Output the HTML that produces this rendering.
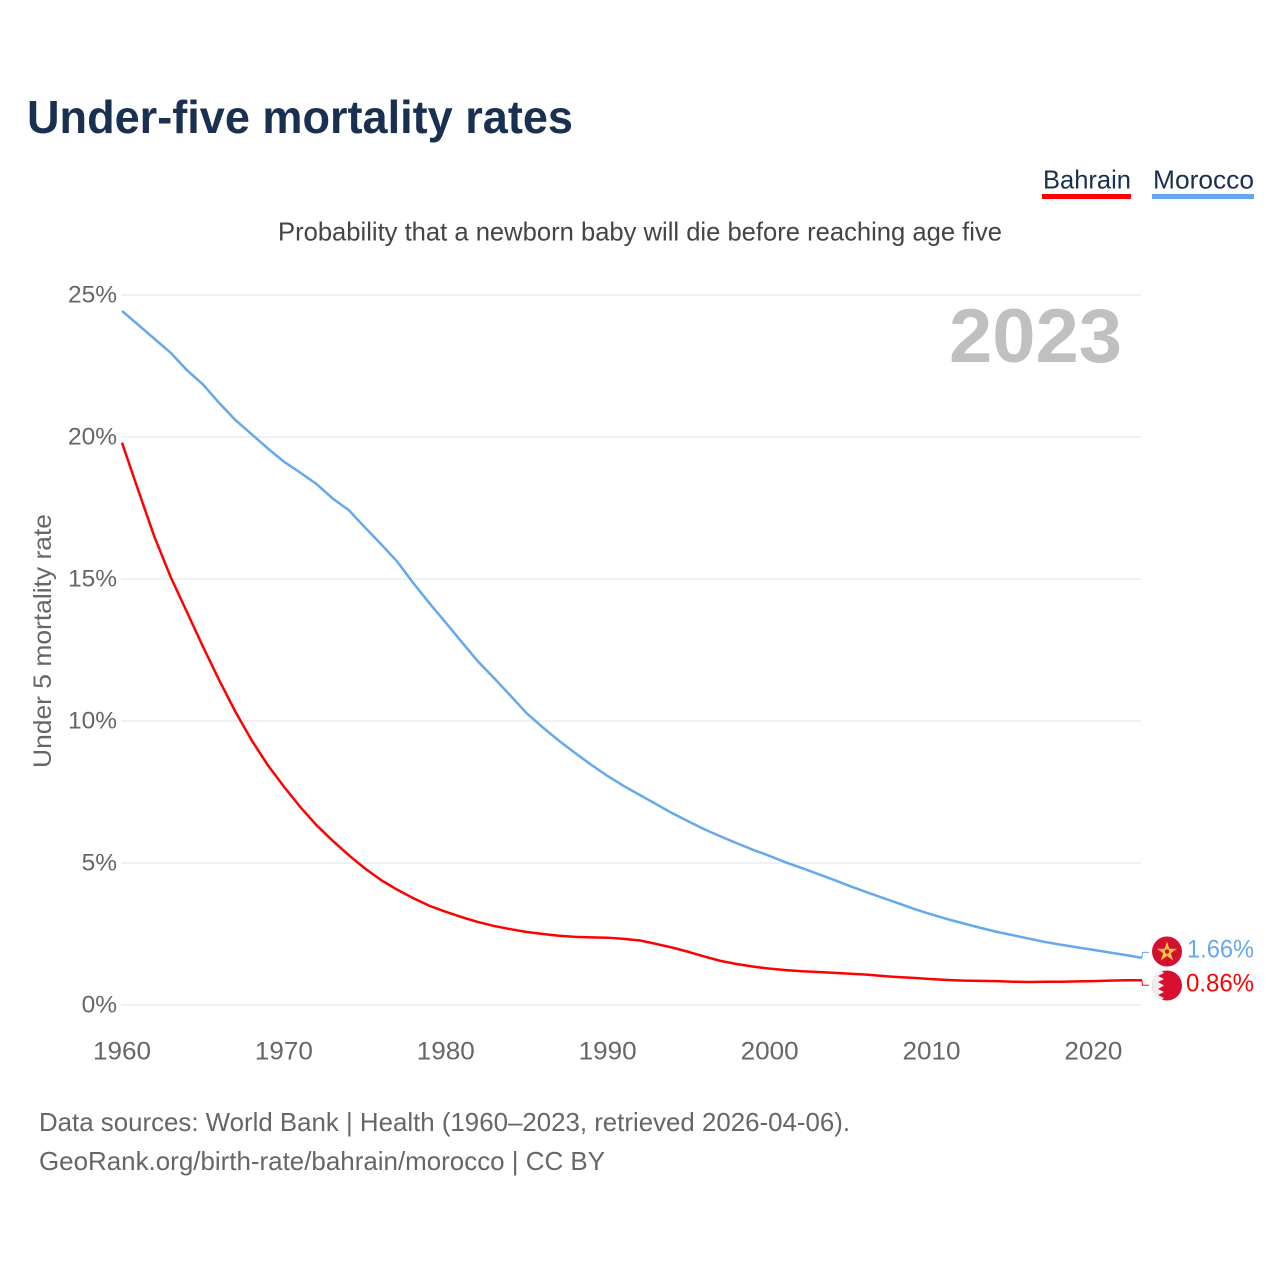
<!DOCTYPE html>
<html lang="en">
<head>
<meta charset="utf-8">
<title>Under-five mortality rates</title>
<style>
html,body{margin:0;padding:0;background:#fff;width:1280px;height:1280px;overflow:hidden}
svg{display:block}
text{font-family:"Liberation Sans",sans-serif}
</style>
</head>
<body>
<svg id="chart" width="1280" height="1280" viewBox="0 0 1280 1280" xmlns="http://www.w3.org/2000/svg">
  <rect width="1280" height="1280" fill="#fff"/>
  <text x="27" y="133" font-size="46" font-weight="700" fill="#1a3050" textLength="546" lengthAdjust="spacingAndGlyphs">Under-five mortality rates</text>
  <g>
    <text x="1043" y="188.5" font-size="26" fill="#1a3050" textLength="88" lengthAdjust="spacingAndGlyphs">Bahrain</text>
    <rect x="1042" y="194" width="89" height="5" fill="#ff0000"/>
  </g>
  <g>
    <text x="1153" y="188.5" font-size="26" fill="#1a3050" textLength="101" lengthAdjust="spacingAndGlyphs">Morocco</text>
    <rect x="1152" y="194" width="102" height="5" fill="#64a8ee"/>
  </g>
  <text x="278" y="240.5" font-size="26" fill="#444" textLength="724" lengthAdjust="spacingAndGlyphs">Probability that a newborn baby will die before reaching age five</text>
  <text transform="translate(51,768) rotate(-90)" font-size="25" fill="#666" textLength="254" lengthAdjust="spacingAndGlyphs">Under 5 mortality rate</text>
  <g id="grid"></g>
  <g id="yticks"></g>
  <g id="xticks"></g>
  <text x="949" y="362" font-size="76" font-weight="700" fill="#c0c0c0" textLength="173" lengthAdjust="spacingAndGlyphs">2023</text>
  <g id="series"></g>
  <g>
    <circle cx="1167" cy="951.5" r="15" fill="#d4102f"/>
    <polygon points="1167,941.5 1169.4,948.8 1177,948.8 1170.8,953.2 1173.2,960.5 1167,956 1160.8,960.5 1163.2,953.2 1157,948.8 1164.6,948.8" fill="#f6c445"/>
    <circle cx="1167" cy="951.5" r="2.2" fill="#d4102f"/>
  </g>
  <g>
    <clipPath id="bahrain-clip"><circle cx="1167" cy="985.5" r="15"/></clipPath>
    <g clip-path="url(#bahrain-clip)">
      <rect x="1152" y="970" width="30" height="31" fill="#d80f30"/>
      <polygon points="1152,970 1160,970 1164,973 1158,976 1164,979 1158,982 1164,985.5 1158,989 1164,992 1158,995 1164,998 1160,1001 1152,1001" fill="#eeeeee"/>
    </g>
  </g>
  <g id="endlabels"></g>
  <text x="39" y="1131" font-size="26" fill="#666" textLength="811" lengthAdjust="spacingAndGlyphs">Data sources: World Bank | Health (1960–2023, retrieved 2026-04-06).</text>
  <text x="39" y="1170" font-size="26" fill="#666" textLength="566" lengthAdjust="spacingAndGlyphs">GeoRank.org/birth-rate/bahrain/morocco | CC BY</text>
</svg>
<script>
var startYear = 1960;
var yTickValues = [0, 5, 10, 15, 20, 25];
var xTickValues = [1960, 1970, 1980, 1990, 2000, 2010, 2020];
var morocco = [24.44,23.95,23.46,22.97,22.36,21.85,21.2,20.6,20.1,19.6,19.13,18.75,18.35,17.84,17.43,16.82,16.23,15.61,14.85,14.14,13.46,12.77,12.09,11.5,10.89,10.27,9.77,9.3,8.87,8.45,8.06,7.71,7.39,7.07,6.75,6.46,6.18,5.93,5.69,5.46,5.25,5.02,4.82,4.61,4.4,4.18,3.97,3.77,3.57,3.37,3.19,3.02,2.87,2.72,2.58,2.46,2.34,2.22,2.12,2.03,1.94,1.85,1.76,1.66];
var bahrain = [19.8,18.13,16.49,15.08,13.85,12.62,11.44,10.33,9.33,8.45,7.69,6.98,6.34,5.79,5.28,4.81,4.4,4.06,3.76,3.49,3.28,3.09,2.92,2.78,2.67,2.57,2.5,2.44,2.4,2.38,2.37,2.33,2.27,2.15,2.02,1.87,1.7,1.55,1.44,1.35,1.28,1.23,1.19,1.16,1.13,1.1,1.07,1.02,0.98,0.95,0.91,0.88,0.86,0.85,0.84,0.82,0.81,0.82,0.82,0.83,0.84,0.86,0.87,0.87];
var moroccoEndLabel = "1.66%";
var bahrainEndLabel = "0.86%";

var NS = "http://www.w3.org/2000/svg";
function xScale(year) { return 122 + (year - 1960) * 16.19; }
function yScale(value) { return 1005 - value * 28.4; }
function make(tag, attrs, text) {
  var el = document.createElementNS(NS, tag);
  for (var k in attrs) el.setAttribute(k, attrs[k]);
  if (text !== undefined) el.textContent = text;
  return el;
}
var grid = document.getElementById("grid");
var yticks = document.getElementById("yticks");
var xticks = document.getElementById("xticks");
var series = document.getElementById("series");
var endlabels = document.getElementById("endlabels");

yTickValues.forEach(function (v) {
  var line = make("line", {x1: 121, x2: 1141, y1: yScale(v), y2: yScale(v), stroke: "#f0f0f0", "stroke-width": 2});
  
  
  grid.appendChild(line);
  var label = make("text", {x: 117, y: yScale(v) + 7.5, "text-anchor": "end", "font-size": 24.5, fill: "#666"}, v + "%");
  
  
  yticks.appendChild(label);
});
xTickValues.forEach(function (y) {
  var label = make("text", {x: xScale(y), y: 1059.5, "text-anchor": "middle", "font-size": 25, fill: "#666", textLength: 58, lengthAdjust: "spacingAndGlyphs"}, String(y));
  
  
  xticks.appendChild(label);
});
function linePoints(values) {
  return values.map(function (v, i) {
    return xScale(startYear + i).toFixed(2) + "," + yScale(v).toFixed(2);
  }).join(" ");
}
var moroccoLine = make("polyline", {points: linePoints(morocco), fill: "none", stroke: "#64a8ee", "stroke-width": 2.5, "stroke-linejoin": "round"});


series.appendChild(moroccoLine);
var bahrainLine = make("polyline", {points: linePoints(bahrain), fill: "none", stroke: "#ff0000", "stroke-width": 2.5, "stroke-linejoin": "round"});


series.appendChild(bahrainLine);

var lastYear = startYear + morocco.length - 1;
var endX = xScale(lastYear);
var mEnd = yScale(morocco[morocco.length - 1]);
var bEnd = yScale(bahrain[bahrain.length - 1]);
var mConnector = make("polyline", {points: endX + "," + mEnd + " " + (endX + 0.5) + "," + (mEnd - 5.5) + " 1149," + (mEnd - 5.5), fill: "none", stroke: "#64a8ee", "stroke-width": 1});


endlabels.appendChild(mConnector);
var bConnector = make("polyline", {points: endX + "," + bEnd + " " + (endX + 0.5) + "," + (bEnd + 5) + " 1149," + (bEnd + 5), fill: "none", stroke: "#ff0000", "stroke-width": 1});


endlabels.appendChild(bConnector);
var mLabel = make("text", {x: 1187, y: 957.5, "font-size": 25, fill: "#64a8ee", textLength: 67, lengthAdjust: "spacingAndGlyphs"}, moroccoEndLabel);


endlabels.appendChild(mLabel);
var bLabel = make("text", {x: 1186, y: 991.5, "font-size": 25, fill: "#ff0000", textLength: 68, lengthAdjust: "spacingAndGlyphs"}, bahrainEndLabel);


endlabels.appendChild(bLabel);
</script>
</body>
</html>
